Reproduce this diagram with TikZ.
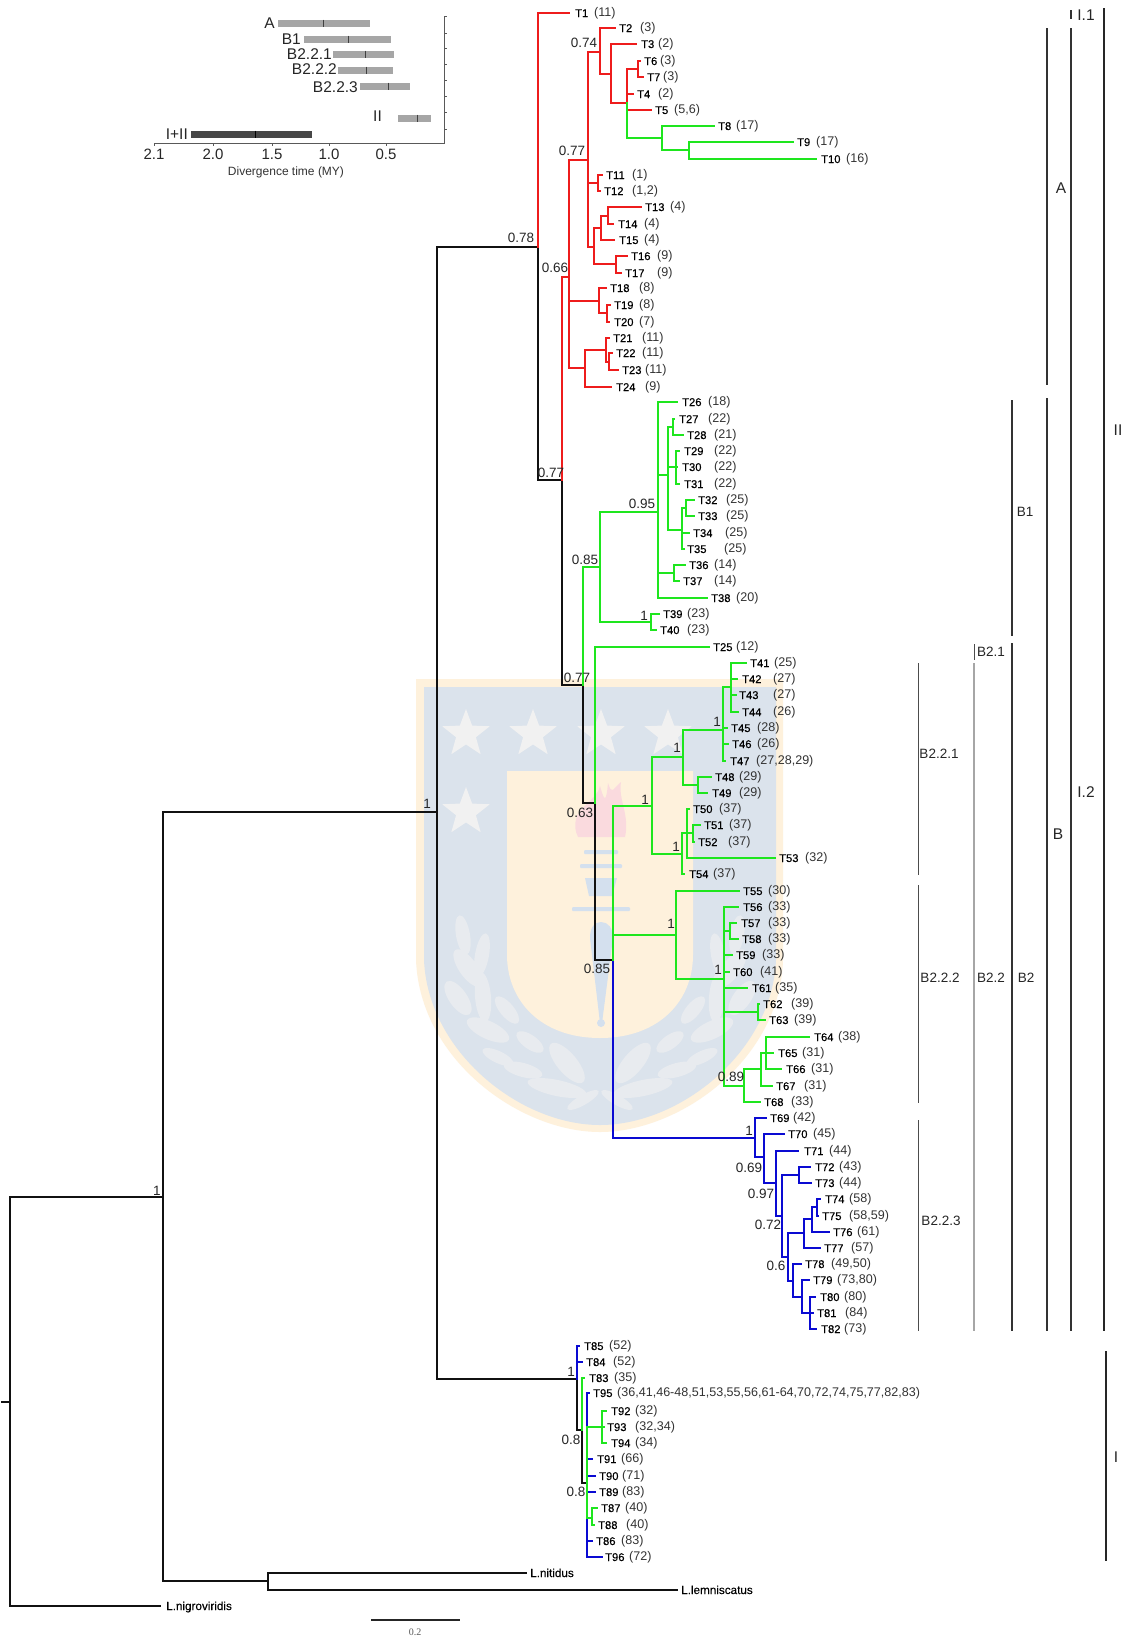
\documentclass[tikz,border=0pt]{standalone}
\usepackage{fontspec}
\setmainfont{Liberation Sans}
\newfontfamily\tipf[FakeBold=0.25]{Liberation Sans}
\newfontfamily\scalef{Liberation Serif}
\usetikzlibrary{shapes.geometric}
\definecolor{trred}{HTML}{EE1C1C}
\definecolor{trgreen}{HTML}{1EE61E}
\definecolor{trblue}{HTML}{0A0AD2}
\definecolor{trblack}{HTML}{111111}
\definecolor{wmout}{HTML}{FEF1DC}
\definecolor{wmblue}{HTML}{DBE3EC}
\definecolor{wmstar}{HTML}{F1F1F1}
\definecolor{wmflame}{HTML}{FADADE}
\definecolor{wmtorch}{HTML}{D4E0EE}
\definecolor{wmleaf}{HTML}{E8EBEF}
\tikzset{
  branch/.style={line width=1.9pt,line cap=rect,line join=miter},
  rdb/.style={branch,trred},
  grb/.style={branch,trgreen},
  blb/.style={branch,trblue},
  bkb/.style={branch,trblack},
  tiplab/.style={anchor=base west,inner sep=0pt,yshift=-4pt,text=black,font=\tipf\fontsize{11.2}{13}\selectfont},
  parenlab/.style={anchor=base west,inner sep=0pt,yshift=-3.5pt,text=black!80,font=\fontsize{12.55}{14}\selectfont},
  bootlab/.style={anchor=center,inner sep=0pt,text=black!85,font=\fontsize{13.5}{15}\selectfont},
  cladebig/.style={anchor=center,inner sep=0pt,text=black!85,font=\fontsize{15.5}{18}\selectfont},
  cladesmall/.style={anchor=center,inner sep=0pt,text=black!85,font=\fontsize{13.5}{16}\selectfont},
  barline/.style={line width=1.2pt,black!80},
  bargray/.style={line width=1.2pt,black!35},
  barthin/.style={line width=0.8pt,black!70},
  barthick/.style={line width=1.8pt,black!85},
  insetlab/.style={inner sep=0pt,text=black!85,font=\fontsize{15.5}{18}\selectfont},
  axislab/.style={anchor=center,inner sep=0pt,text=black!85,font=\fontsize{15}{18}\selectfont},
  hbar/.style={fill=black!35},
  hbardark/.style={fill=black!72},
  wstar/.style={star,star points=5,star point ratio=2.4,minimum size=50pt,inner sep=0pt,fill=wmstar},
}
\newcommand\tipn[6]{\coordinate (e#1) at (#2,#3); \node[tiplab] (#1) at (#4,#3) {#1}; \node[parenlab] (p#1) at (#5,#3) {#6};}
\newcommand\wleaf[5]{%
  \fill[wmleaf,rotate around={#5:(#1,#2)}] (#1,#2) ellipse [x radius=#3,y radius=#4];
  \pgfmathsetmacro\mx{1200-#1}\pgfmathsetmacro\ma{180-#5}%
  \fill[wmleaf,rotate around={\ma:(\mx,#2)}] (\mx,#2) ellipse [x radius=#3,y radius=#4];
}
\begin{document}
\begin{tikzpicture}[x=1pt,y=-1pt]
\useasboundingbox (0,0) rectangle (1126,1641);
\fill[white] (0,0) rectangle (1126,1641);

%% watermark
\fill[wmout] (416,679) -- (783,679) -- (783,960) .. controls (780,1060) and (680,1132) .. (600,1132) .. controls (520,1132) and (420,1060) .. (416,960) -- cycle;
\fill[wmblue] (424,687) -- (776,687) -- (776,960) .. controls (772,1052) and (680,1125) .. (600,1125) .. controls (520,1125) and (428,1052) .. (424,960) -- cycle;
\fill[wmout] (507,771) -- (693,771) -- (693,955) .. controls (693,1000) and (660,1038) .. (600,1038) .. controls (540,1038) and (507,1000) .. (507,955) -- cycle;
\foreach \x/\y [count=\i] in {466/734,533/734,601/734,668/734,466/812} \node[wstar] (wm\i) at (\x,\y) {};
\fill[wmflame] (578,837) .. controls (572,825) and (576,812) .. (586,805) .. controls (592,798) and (598,795) .. (600,786) .. controls (604,800) and (606,805) .. (608,783) .. controls (612,795) and (612,790) .. (621,782) .. controls (618,800) and (630,815) .. (625,837) -- cycle;
\fill[wmtorch,rounded corners=1pt] (584,850) rectangle (618,854);
\fill[wmtorch,rounded corners=1pt] (580,864) rectangle (622,868);
\fill[wmtorch] (585,878) -- (617,878) -- (612,896) -- (589,896) -- cycle;
\fill[wmtorch,rounded corners=1pt] (572,907) rectangle (630,911);
\fill[wmtorch] (590,938) .. controls (590,928) and (594,922) .. (601,922) .. controls (608,922) and (613,928) .. (613,938) -- (602,1023) -- (600,1023) -- cycle;
\fill[wmtorch] (601,1023) circle [radius=4];
\wleaf{463}{935}{20}{7}{100}
\wleaf{482}{955}{22}{7}{80}
\wleaf{468}{968}{22}{9}{125}
\wleaf{483}{997}{25}{8}{95}
\wleaf{458}{998}{20}{9}{125}
\wleaf{507}{1010}{17}{7}{-50}
\wleaf{488}{1030}{23}{9}{-25}
\wleaf{530}{1042}{16}{7}{-35}
\wleaf{498}{1057}{17}{6}{-25}
\wleaf{523}{1070}{20}{7}{-15}
\wleaf{567}{1063}{25}{10}{-50}
\wleaf{557}{1088}{30}{8}{-12}
\wleaf{583}{1100}{18}{5}{30}

%% inset
\draw[line width=0.9pt,black!65] (444,16) -- (444,143) -- (154,143);
\foreach \y in {16,33,48,64,80,96,112,129} \draw[line width=0.8pt,black!65] (444,\y) -- (447,\y);
\foreach \x in {154,213,272,329,386} \draw[line width=0.8pt,black!65] (\x,143) -- (\x,146);
\foreach \a/\b/\y/\t in {278/370/23/323,304/391/39/348,333/394/54/365,338/393/70/366,360/410/86/388,398/431/118/417}{
  \fill[hbar] (\a,\y-3.5) rectangle (\b,\y+3.5);
  \draw[line width=0.8pt,black!75] (\t,\y-3.5) -- (\t,\y+3.5);
}
\fill[hbardark] (191,130.5) rectangle (312,137.5);
\draw[line width=0.8pt,black] (255,130.5) -- (255,137.5);
\foreach \x/\y/\t [count=\i] in {275/23/A,301/39/B1,332/54/B2.2.1,337/69/B2.2.2,358/87/B2.2.3,382/116/II,188/134/I+II}
  \node[insetlab,anchor=east] (il\i) at (\x,\y) {\t};
\foreach \x/\t [count=\i] in {154/2.1,213/2.0,272/1.5,329/1.0,386/0.5}
  \node[axislab] (ax\i) at (\x,154) {\t};
\node[anchor=center,inner sep=0pt,text=black!80,font=\fontsize{12}{14}\selectfont] (axtitle) at (286,172) {Divergence time (MY)};

%% internal nodes
\foreach \n/\x/\y in {rs/2/1402,r/10/1402,n1/163/1197,n2/437/812,n3/268/1581,n4/538/247,n5/562/480,n6/583/685,n7/595/803,n8/613/960,
 a0/569/277,a1/588/160,a2/585/368,a3/599/301,a4/600/52,a5/594/247,a6/598/183,a7/611/74,a8/627/103,a9/638/69,a10/662/138,a11/689/150,a12/601/228,a13/616/264,a14/608/216,a15/607/313,a16/606/350,a17/609/362,
 b0/600/567,b1/658/512,b2/651/622,b3/668/475,b4/674/573,b5/673/427,b6/676/467,b7/682/530,b8/686/508,
 c0/652/806,c1/676/935,c2/683/757,c3/682/854,c4/723/730,c5/698/785,c6/731/687,c7/687/833,c8/693/833,c9/724/979,c10/730/931,c11/758/1012,c12/744/1086,c13/761/1069,c14/766/1053,
 d0/755/1138,d1/764/1157,d2/776/1183,d3/782/1216,d4/799/1175,d5/788/1257,d6/804/1233,d7/793/1281,d8/812/1219,d9/817/1207,d10/802/1297,d11/810/1313,
 e0/577/1379,e1/582/1430,e2/587/1483,e3/602/1427,e4/592/1518,e5/587/1518}
 \coordinate (\n) at (\x,\y);

%% tips
\tipn{T1}{569}{13}{575}{594}{(11)}
\tipn{T2}{615}{28}{619}{640}{(3)}
\tipn{T3}{636}{44}{641}{658}{(2)}
\tipn{T6}{640}{61}{644}{660}{(3)}
\tipn{T7}{643}{77}{647}{663}{(3)}
\tipn{T4}{633}{94}{637}{658}{(2)}
\tipn{T5}{651}{110}{655}{674}{(5,6)}
\tipn{T8}{714}{126}{718}{736}{(17)}
\tipn{T9}{793}{142}{797}{816}{(17)}
\tipn{T10}{816}{159}{821}{846}{(16)}
\tipn{T11}{602}{175}{606}{632}{(1)}
\tipn{T12}{600}{191}{604}{632}{(1,2)}
\tipn{T13}{641}{207}{645}{670}{(4)}
\tipn{T14}{613}{224}{618}{644}{(4)}
\tipn{T15}{614}{240}{619}{644}{(4)}
\tipn{T16}{627}{256}{631}{657}{(9)}
\tipn{T17}{621}{273}{625}{657}{(9)}
\tipn{T18}{606}{288}{610}{639}{(8)}
\tipn{T19}{610}{305}{614}{639}{(8)}
\tipn{T20}{609}{322}{614}{639}{(7)}
\tipn{T21}{609}{338}{613}{642}{(11)}
\tipn{T22}{612}{353}{616}{642}{(11)}
\tipn{T23}{618}{370}{622}{645}{(11)}
\tipn{T24}{611}{387}{616}{645}{(9)}
\tipn{T26}{677}{402}{682}{708}{(18)}
\tipn{T27}{674}{419}{679}{708}{(22)}
\tipn{T28}{683}{435}{687}{714}{(21)}
\tipn{T29}{679}{451}{684}{714}{(22)}
\tipn{T30}{677}{467}{682}{714}{(22)}
\tipn{T31}{679}{484}{684}{714}{(22)}
\tipn{T32}{694}{500}{698}{726}{(25)}
\tipn{T33}{694}{516}{698}{726}{(25)}
\tipn{T34}{689}{533}{693}{725}{(25)}
\tipn{T35}{684}{549}{687}{724}{(25)}
\tipn{T36}{685}{565}{689}{714}{(14)}
\tipn{T37}{679}{581}{683}{714}{(14)}
\tipn{T38}{707}{598}{711}{736}{(20)}
\tipn{T39}{659}{614}{663}{687}{(23)}
\tipn{T40}{656}{630}{660}{687}{(23)}
\tipn{T25}{709}{647}{713}{736}{(12)}
\tipn{T41}{746}{663}{750}{774}{(25)}
\tipn{T42}{737}{679}{742}{773}{(27)}
\tipn{T43}{736}{695}{739}{773}{(27)}
\tipn{T44}{738}{712}{742}{773}{(26)}
\tipn{T45}{727}{728}{731}{757}{(28)}
\tipn{T46}{728}{744}{732}{757}{(26)}
\tipn{T47}{725}{761}{730}{756}{(27,28,29)}
\tipn{T48}{711}{777}{715}{739}{(29)}
\tipn{T49}{707}{793}{712}{739}{(29)}
\tipn{T50}{689}{809}{693}{719}{(37)}
\tipn{T51}{700}{825}{704}{729}{(37)}
\tipn{T52}{694}{842}{698}{728}{(37)}
\tipn{T53}{775}{858}{779}{805}{(32)}
\tipn{T54}{684}{874}{689}{713}{(37)}
\tipn{T55}{739}{891}{743}{768}{(30)}
\tipn{T56}{738}{907}{743}{768}{(33)}
\tipn{T57}{736}{923}{741}{768}{(33)}
\tipn{T58}{738}{939}{742}{768}{(33)}
\tipn{T59}{732}{955}{736}{762}{(33)}
\tipn{T60}{729}{972}{733}{760}{(41)}
\tipn{T61}{747}{988}{752}{775}{(35)}
\tipn{T62}{759}{1004}{763}{791}{(39)}
\tipn{T63}{765}{1020}{769}{794}{(39)}
\tipn{T64}{809}{1037}{814}{838}{(38)}
\tipn{T65}{773}{1053}{778}{802}{(31)}
\tipn{T66}{781}{1069}{786}{811}{(31)}
\tipn{T67}{772}{1086}{776}{804}{(31)}
\tipn{T68}{760}{1102}{764}{791}{(33)}
\tipn{T69}{766}{1118}{770}{793}{(42)}
\tipn{T70}{784}{1134}{788}{813}{(45)}
\tipn{T71}{798}{1151}{804}{829}{(44)}
\tipn{T72}{810}{1167}{815}{839}{(43)}
\tipn{T73}{811}{1183}{815}{839}{(44)}
\tipn{T74}{820}{1199}{825}{849}{(58)}
\tipn{T75}{818}{1216}{822}{849}{(58,59)}
\tipn{T76}{829}{1232}{833}{857}{(61)}
\tipn{T77}{820}{1248}{824}{851}{(57)}
\tipn{T78}{801}{1264}{805}{831}{(49,50)}
\tipn{T79}{809}{1280}{813}{837}{(73,80)}
\tipn{T80}{815}{1297}{820}{844}{(80)}
\tipn{T81}{813}{1313}{817}{845}{(84)}
\tipn{T82}{816}{1329}{821}{844}{(73)}
\tipn{T85}{579}{1346}{584}{609}{(52)}
\tipn{T84}{582}{1362}{586}{613}{(52)}
\tipn{T83}{584}{1378}{589}{614}{(35)}
\tipn{T95}{589}{1393}{593}{617}{(36,41,46-48,51,53,55,56,61-64,70,72,74,75,77,82,83)}
\tipn{T92}{606}{1411}{611}{635}{(32)}
\tipn{T93}{604}{1427}{607}{635}{(32,34)}
\tipn{T94}{606}{1443}{611}{635}{(34)}
\tipn{T91}{592}{1459}{597}{621}{(66)}
\tipn{T90}{595}{1476}{599}{622}{(71)}
\tipn{T89}{595}{1492}{599}{622}{(83)}
\tipn{T87}{597}{1508}{601}{625}{(40)}
\tipn{T88}{594}{1525}{598}{626}{(40)}
\tipn{T86}{592}{1541}{596}{621}{(83)}
\tipn{T96}{602}{1557}{605}{629}{(72)}
\coordinate (enit) at (526,1573);
\coordinate (elem) at (677,1590);
\coordinate (enig) at (160,1606);
\node[tiplab,font=\tipf\fontsize{11.7}{13}\selectfont] (Lnit) at (530,1573) {L.nitidus};
\node[tiplab,font=\tipf\fontsize{11.7}{13}\selectfont] (Llem) at (681,1590) {L.lemniscatus};
\node[tiplab,font=\tipf\fontsize{11.7}{13}\selectfont] (Lnig) at (166,1606) {L.nigroviridis};

%% branches
\draw[bkb] (rs) -- (r);
\foreach \p/\c in {r/n1,r/enig,n1/n2,n1/n3,n3/enit,n3/elem,n2/n4,n4/n5,n5/n6,n6/n7,n7/n8,n2/e0,e0/e1,e1/e2}
  \draw[bkb] (\p) |- (\c);
\foreach \p/\c in {n4/eT1,n5/a0,a0/a1,a0/a2,a0/a3,a1/a4,a1/a5,a1/a6,a4/eT2,a4/a7,a7/eT3,a7/a8,a8/a9,a8/eT4,a8/eT5,a9/eT6,a9/eT7,a6/eT11,a6/eT12,a5/a12,a5/a13,a12/a14,a12/eT15,a14/eT13,a14/eT14,a13/eT16,a13/eT17,a3/eT18,a3/a15,a15/eT19,a15/eT20,a2/a16,a2/eT24,a16/eT21,a16/a17,a17/eT22,a17/eT23}
  \draw[rdb] (\p) |- (\c);
\foreach \p/\c in {n8/d0,d0/eT69,d0/d1,d1/eT70,d1/d2,d2/eT71,d2/d3,d3/d4,d3/d5,d4/eT72,d4/eT73,d5/d6,d5/d7,d6/d8,d6/eT77,d8/d9,d8/eT76,d9/eT74,d9/eT75,d7/eT78,d7/d10,d10/eT79,d10/d11,d11/eT80,d11/eT81,d11/eT82,e0/eT85,e0/eT84,e2/eT95,e2/eT91,e2/eT90,e2/eT89,e5/eT86,e5/eT96}
  \draw[blb] (\p) |- (\c);
\foreach \p/\c in {a8/a10,a10/eT8,a10/a11,a11/eT9,a11/eT10,n6/b0,b0/b1,b0/b2,b2/eT39,b2/eT40,b1/eT26,b1/eT38,b1/b3,b1/b4,b4/eT36,b4/eT37,b3/b5,b3/b6,b3/b7,b5/eT27,b5/eT28,b6/eT29,b6/eT30,b6/eT31,b7/b8,b7/eT34,b7/eT35,b8/eT32,b8/eT33,n7/eT25,n8/c0,n8/c1,c0/c2,c0/c3,c2/c4,c2/c5,c4/eT45,c4/eT46,c4/eT47,c4/c6,c6/eT41,c6/eT42,c6/eT43,c6/eT44,c5/eT48,c5/eT49,c3/c7,c3/eT54,c7/eT50,c7/eT53,c7/c8,c8/eT51,c8/eT52,c1/eT55,c1/c9,c9/eT56,c9/eT59,c9/eT60,c9/eT61,c9/c10,c9/c11,c9/c12,c10/eT57,c10/eT58,c11/eT62,c11/eT63,c12/eT68,c12/c13,c13/eT67,c13/c14,c14/eT64,c14/eT65,c14/eT66,e1/eT83,e2/e3,e3/eT92,e3/eT93,e3/eT94,e2/e4,e4/eT87,e4/eT88}
  \draw[grb] (\p) |- (\c);

%% support values
\foreach \x/\y/\t [count=\i] in {521/238/0.78,584/43/0.74,572/151/0.77,555/268/0.66,551/473/0.77,642/504/0.95,585/560/0.85,644/616/1,577/678/0.77,717/722/1,677/748/1,645/800/1,580/813/0.63,676/847/1,597/969/0.85,671/924/1,718/970/1,731/1077/0.89,749/1131/1,749/1168/0.69,761/1194/0.97,768/1225/0.72,776/1266/0.6,571/1372/1,571/1440/0.8,576/1492/0.8,157/1191/1,427/804/1}
  \node[bootlab] (sv\i) at (\x,\y) {\t};

%% clade bars
\draw[barthin] (918,663) -- (918,875);
\draw[barthin] (918,885) -- (918,1103);
\draw[barthin] (918,1120) -- (918,1331);
\draw[barthin] (974,644) -- (974,660);
\draw[bargray] (974,663) -- (974,1331);
\draw[barline] (1012,400) -- (1012,636);
\draw[barline] (1012,643) -- (1012,1331);
\draw[barline] (1047,28) -- (1047,385);
\draw[barline] (1047,398) -- (1047,1331);
\draw[barline] (1071,10) -- (1071,19);
\draw[barline] (1071,28) -- (1071,1331);
\draw[barthick] (1104,8) -- (1104,1331);
\draw[barthick] (1106,1351) -- (1106,1561);
\foreach \x/\y/\t [count=\i] in {1086/15/I.1,1061/188/A,1058/834/B,1086/792/I.2,1118/430/II,1116/1457/I}
  \node[cladebig] (cb\i) at (\x,\y) {\t};
\foreach \x/\y/\t [count=\i] in {1025/512/B1,1026/978/B2,991/652/B2.1,991/978/B2.2,939/754/B2.2.1,940/978/B2.2.2,941/1221/B2.2.3}
  \node[cladesmall] (cs\i) at (\x,\y) {\t};

%% scale
\draw[line width=1.4pt,black!85] (371,1620) -- (460,1620);
\node[anchor=center,inner sep=0pt,text=black!65,font=\scalef\fontsize{10}{12}\selectfont] (scalelab) at (415,1632) {0.2};
\end{tikzpicture}
\end{document}
